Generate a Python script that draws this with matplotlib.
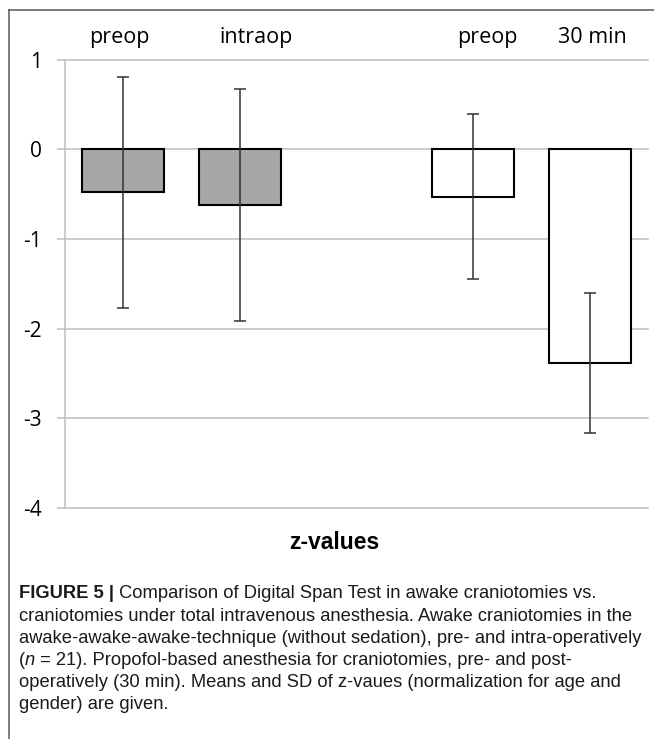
import matplotlib
matplotlib.use('Agg')
import matplotlib.pyplot as plt
from matplotlib.lines import Line2D

# Digit span test, z-values (mean and SD)
conditions = ['preop', 'intraop', 'preop', '30 min']
positions = [0, 1, 3, 4]
means = [-0.48, -0.62, -0.53, -2.38]
sds = [1.29, 1.29, 0.92, 0.78]
fills = ['#a6a6a6', '#a6a6a6', 'white', 'white']
yticks = [1, 0, -1, -2, -3, -4]
axis_title = 'z-values'

caption = [
    [('FIGURE 5 |', 'bold', 'normal'), (' Comparison of Digital Span Test in awake craniotomies vs.', 'normal', 'normal')],
    [('craniotomies under total intravenous anesthesia. Awake craniotomies in the', 'normal', 'normal')],
    [('awake-awake-awake-technique (without sedation), pre- and intra-operatively', 'normal', 'normal')],
    [('(', 'normal', 'normal'), ('n', 'normal', 'italic'), (' = 21). Propofol-based anesthesia for craniotomies, pre- and post-', 'normal', 'normal')],
    [('operatively (30 min). Means and SD of z-vaues (normalization for age and', 'normal', 'normal')],
    [('gender) are given.', 'normal', 'normal')],
]

plt.rcParams['axes.unicode_minus'] = False
W, H = 654, 739
fig = plt.figure(figsize=(W / 100, H / 100), dpi=100)
ax = fig.add_axes([65 / W, 1 - 508 / H, 583 / W, 448.4 / H])

grid_c = '#bfbfbf'
ax.bar(positions, means, width=0.7, color=fills, edgecolor='black', linewidth=1.5, zorder=3)
ax.errorbar(positions, means, yerr=sds, fmt='none', ecolor='#333333',
            elinewidth=1.1, capsize=4.5, capthick=1.1, zorder=4)

ax.set_xlim(-0.5, 4.5)
ax.set_ylim(-4, 1)
ax.set_xticks([])
ax.set_yticks(yticks)
ax.set_yticklabels([str(t) for t in yticks], fontfamily='Open Sans', fontsize=15)
ax.tick_params(axis='y', length=5.8, width=1.1, color=grid_c, pad=11)
for side in ['top', 'right', 'bottom']:
    ax.spines[side].set_visible(False)
ax.spines['left'].set_color(grid_c)
ax.spines['left'].set_linewidth(1.1)
ax.grid(axis='y', color=grid_c, linewidth=1.1, zorder=0)
ax.set_axisbelow(True)
for gl in ax.get_ygridlines():
    gl.set_clip_on(False)

# condition labels over the bars
label_shift = [-0.03, 0.14, 0.12, 0.02]
for p, name, s in zip(positions, conditions, label_shift):
    ax.text(p + s, 1.185, name, ha='center', va='baseline', fontsize=15.5,
            fontfamily='Open Sans', clip_on=False)

fig.text(334 / W, 1 - 549 / H, axis_title, ha='center', va='baseline',
         fontsize=16.5, fontweight='bold', fontfamily='Liberation Sans')

# frame lines
fig.add_artist(Line2D([9 / W, 1], [1 - 10 / H, 1 - 10 / H], transform=fig.transFigure,
                      color='#595959', linewidth=1.1))
fig.add_artist(Line2D([9 / W, 9 / W], [1 - 10 / H, 0], transform=fig.transFigure,
                      color='#595959', linewidth=1.1))

# caption, drawn piece by piece
renderer = fig.canvas.get_renderer()
y = 598.5
for line in caption:
    x = 19
    for txt, weight, style in line:
        t = fig.text(x / W, 1 - y / H, txt, ha='left', va='baseline', fontsize=13.2,
                     fontweight=weight, fontstyle=style, fontfamily='Liberation Sans',
                     color='#1a1a1a')
        x = t.get_window_extent(renderer).x1
    y += 22.1

fig.savefig('out.png', dpi=100)
